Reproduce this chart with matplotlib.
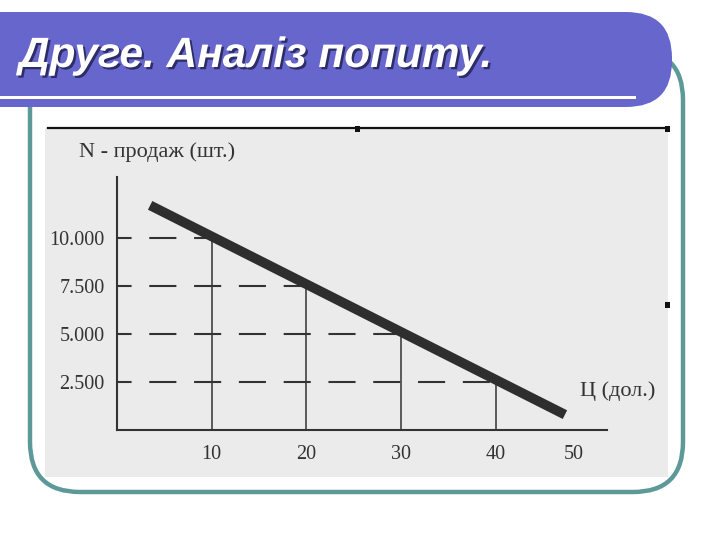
import matplotlib
matplotlib.use("Agg")
import matplotlib.pyplot as plt
from matplotlib.patches import FancyBboxPatch, Rectangle
import matplotlib.patheffects as pe

# ---- data ----
price_line = [3.5, 47.3]          # Ц (дол.)
sales_line = [11700, 800]         # N - продаж (шт.)
level_prices = [10, 20, 30, 40]
level_sales = [10000, 7500, 5000, 2500]
y_tick_values = [10000, 7500, 5000, 2500]
y_tick_labels = ["10.000", "7.500", "5.000", "2.500"]
x_tick_positions = [10, 20, 30, 40, 48.2]
x_tick_labels = ["10", "20", "30", "40", "50"]
title = "Друге. Аналіз попиту."
y_label = "N - продаж (шт.)"
x_label = "Ц (дол.)"

W, H = 720, 540
fig = plt.figure(figsize=(7.2, 5.4), dpi=100)
fig.patch.set_facecolor("white")

# overlay axes in pixel coordinates
bg = fig.add_axes([0, 0, 1, 1])
bg.set_xlim(0, W)
bg.set_ylim(H, 0)
bg.axis("off")

teal = "#5e9999"
purple = "#6666cc"

# slide frame
frame = FancyBboxPatch((30, 50), 653, 442,
                       boxstyle="round,pad=0,rounding_size=50",
                       fc="white", ec="none", zorder=1)
bg.add_patch(frame)

# scanned area
bg.add_patch(Rectangle((45, 128), 623, 349, fc="#ebebeb", ec="none", zorder=2))
bg.plot([48, 668], [127.5, 127.5], color="#111111", lw=1.6, zorder=3)
for (cx, cy) in [(358, 129), (668, 129), (668, 305)]:
    bg.add_patch(Rectangle((cx - 3, cy - 3), 5, 6, fc="#111111", ec="none", zorder=3))

# frame outline on top of the scan
frame_edge = FancyBboxPatch((30, 50), 653, 442,
                            boxstyle="round,pad=0,rounding_size=50",
                            fc="none", ec=teal, lw=3.2, zorder=3.5)
bg.add_patch(frame_edge)

# title bar
bar = FancyBboxPatch((-80, 12), 752, 95,
                     boxstyle="round,pad=0,rounding_size=46",
                     fc=purple, ec="none", zorder=4)
bg.add_patch(bar)
bg.add_patch(Rectangle((0, 95.5), 636, 3, fc="white", ec="none", zorder=5))
bg.text(19, 56, title, color="white", fontsize=30.5, fontstyle="italic",
        fontweight="bold", family="Liberation Sans", va="center", ha="left",
        zorder=6,
        path_effects=[pe.withSimplePatchShadow(offset=(1.6, -1.6),
                                               shadow_rgbFace="#222255",
                                               alpha=0.85)])

# axis titles (serif, like the scan)
dark = "#333333"
bg.text(79, 152, y_label, fontsize=16, family="Liberation Serif",
        color=dark, va="center", ha="left", zorder=6)
bg.text(580, 391, x_label, fontsize=16, family="Liberation Serif",
        color=dark, va="center", ha="left", zorder=6)

# ---- data axes ----
left, right, top, bottom = 117, 607, 177, 430
ax = fig.add_axes([left / W, 1 - bottom / H, (right - left) / W, (bottom - top) / H])
ax.set_facecolor("none")
ax.set_zorder(5)
ax.set_xlim(0, (right - left) / 9.47)
ax.set_ylim(0, (bottom - top) / 48.0 * 2500)
for s in ["top", "right"]:
    ax.spines[s].set_visible(False)
for s in ["left", "bottom"]:
    ax.spines[s].set_color(dark)
    ax.spines[s].set_linewidth(1.5)

ax.set_yticks(y_tick_values)
ax.set_yticklabels(y_tick_labels)
ax.set_xticks(x_tick_positions)
ax.set_xticklabels(x_tick_labels)
ax.tick_params(length=0, labelsize=14.5, colors=dark)
ax.tick_params(axis="y", pad=9)
ax.tick_params(axis="x", pad=11)
for lab in ax.get_xticklabels() + ax.get_yticklabels():
    lab.set_family("Liberation Serif")

# guide lines
for p, n in zip(level_prices, level_sales):
    ax.plot([0, p], [n, n], color=dark, lw=1.5,
            linestyle=(6.0, (13, 8.5)), dash_capstyle="butt")
    ax.plot([p, p], [0, n], color=dark, lw=1.1)

# demand line
ax.plot(price_line, sales_line, color="#2e2e2e", lw=7, solid_capstyle="butt")

fig.savefig("out.png", dpi=100, facecolor="white")
